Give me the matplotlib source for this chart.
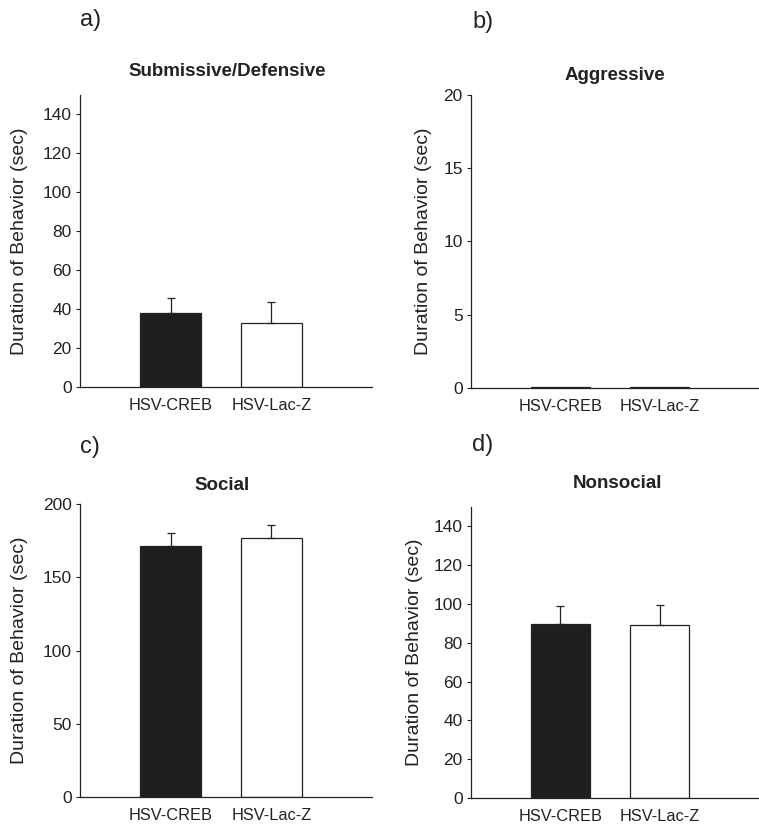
import matplotlib
matplotlib.use("Agg")
import matplotlib.pyplot as plt

plt.rcParams['font.family'] = ['Liberation Sans', 'DejaVu Sans']

groups = ["HSV-CREB", "HSV-Lac-Z"]
bar_colors = ["#1f1f1f", "#ffffff"]

submissive_mean = [37.8, 33.0]
submissive_sem = [8.0, 10.6]
aggressive_mean = [0.06, 0.05]
aggressive_sem = [0.0, 0.0]
social_mean = [171.0, 176.5]
social_sem = [9.5, 9.0]
nonsocial_mean = [89.8, 89.3]
nonsocial_sem = [9.3, 10.0]

W, H = 759, 825

panels = [
    dict(tag="a)", title="Submissive/Defensive", mean=submissive_mean, sem=submissive_sem,
         ylim=(0, 150), ticks=[0, 20, 40, 60, 80, 100, 120, 140],
         rect=[0.1054, 0.5309, 0.3847, 0.354], title_xy=(227, 71), tag_xy=(80, 20),
         ylab_x=-0.178),
    dict(tag="b)", title="Aggressive", mean=aggressive_mean, sem=aggressive_sem,
         ylim=(0, 20), ticks=[0, 5, 10, 15, 20],
         rect=[0.6206, 0.5297, 0.3794, 0.3552], title_xy=(615, 75), tag_xy=(472, 22),
         ylab_x=-0.135),
    dict(tag="c)", title="Social", mean=social_mean, sem=social_sem,
         ylim=(0, 200), ticks=[0, 50, 100, 150, 200],
         rect=[0.1054, 0.0339, 0.3847, 0.3552], title_xy=(222, 485), tag_xy=(80, 447),
         ylab_x=-0.178),
    dict(tag="d)", title="Nonsocial", mean=nonsocial_mean, sem=nonsocial_sem,
         ylim=(0, 150), ticks=[0, 20, 40, 60, 80, 100, 120, 140],
         rect=[0.6206, 0.0327, 0.3794, 0.3527], title_xy=(617, 483), tag_xy=(472, 445),
         ylab_x=-0.167),
]

fig = plt.figure(figsize=(W / 100, H / 100), dpi=100)
ink = "#222222"

for p in panels:
    ax = fig.add_axes(p["rect"])
    x = [0, 1]
    ax.bar(x, p["mean"], width=0.6, color=bar_colors, edgecolor=ink, linewidth=0.9, zorder=2)
    if any(s > 0 for s in p["sem"]):
        ax.errorbar(x, p["mean"], yerr=[[0, 0], p["sem"]], fmt="none", ecolor=ink,
                    elinewidth=0.9, capsize=3, capthick=0.9, zorder=3)
    ax.set_xlim(-0.9, 2.0)
    ax.set_ylim(*p["ylim"])
    ax.set_yticks(p["ticks"])
    ax.set_xticks(x)
    ax.set_xticklabels(groups, fontsize=11.8, color=ink)
    ax.tick_params(axis="x", length=0, pad=8)
    ax.tick_params(axis="y", length=3, width=0.8, labelsize=12.5, colors=ink, pad=3)
    for s in ["top", "right"]:
        ax.spines[s].set_visible(False)
    for s in ["left", "bottom"]:
        ax.spines[s].set_color(ink)
        ax.spines[s].set_linewidth(0.9)
    ax.set_ylabel("Duration of Behavior (sec)", fontsize=14, color=ink)
    ax.yaxis.set_label_coords(p["ylab_x"], 0.5)
    tx, ty = p["title_xy"]
    fig.text(tx / W, 1 - ty / H, p["title"], fontsize=13.5, fontweight="bold",
             color=ink, ha="center", va="center")
    gx, gy = p["tag_xy"]
    fig.text(gx / W, 1 - gy / H, p["tag"], fontsize=17, color=ink, ha="left", va="center")

fig.savefig("out.png", dpi=100, facecolor="white")
